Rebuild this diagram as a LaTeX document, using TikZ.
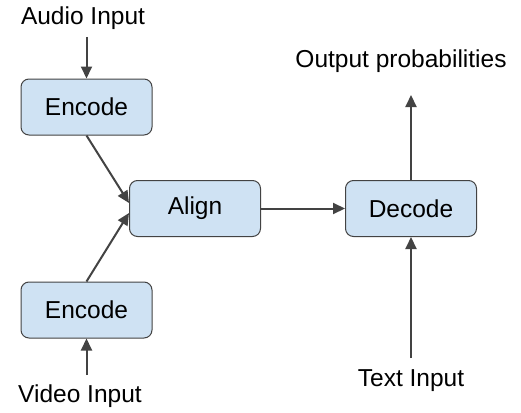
\documentclass[tikz,border=0pt]{standalone}
\usepackage{fontspec}
\setmainfont{Liberation Sans}
\usetikzlibrary{arrows.meta}
\definecolor{boxfill}{HTML}{CFE2F3}
\definecolor{linecol}{HTML}{434343}
\begin{document}
\begin{tikzpicture}[x=1pt,y=-1pt,
  blk/.style={draw=linecol, line width=1pt, fill=boxfill, rounded corners=8pt,
    minimum width=131pt, minimum height=56pt, inner sep=0pt,
    font=\fontsize{24.5}{29}\selectfont},
  lbl/.style={inner sep=0pt, font=\fontsize{24.5}{29}\selectfont},
  conn/.style={draw=linecol, line width=2pt, -{Triangle[length=12pt,width=11pt]}}]
\useasboundingbox (0,0) rectangle (521,412);
\node[blk] (enc1) at (86.5,107) {Encode};
\node[blk] (align) at (195,208.5) {Align};
\node[blk] (enc2) at (86.5,310) {Encode};
\node[blk] (dec) at (411,208.5) {Decode};
\node[lbl] (audio) at (83,18) {Audio Input};
\node[lbl] (video) at (80,396) {Video Input};
\node[lbl] (outp) at (401,61) {Output probabilities};
\node[lbl] (text) at (411,381) {Text Input};
\coordinate (aIn1) at (129,203);
\coordinate (aIn2) at (129,213);
\coordinate (audioEnd) at (86.5,37);
\coordinate (videoEnd) at (86.5,375);
\coordinate (outEnd) at (411,95);
\coordinate (textEnd) at (411,358);
\draw[conn] (audioEnd) -- (enc1.north);
\draw[conn] (enc1.south) -- (aIn1);
\draw[conn] (enc2.north) -- (aIn2);
\draw[conn] (videoEnd) -- (enc2.south);
\draw[conn] (align.east) -- (dec.west);
\draw[conn] (dec.north) -- (outEnd);
\draw[conn] (textEnd) -- (dec.south);
\end{tikzpicture}
\end{document}
